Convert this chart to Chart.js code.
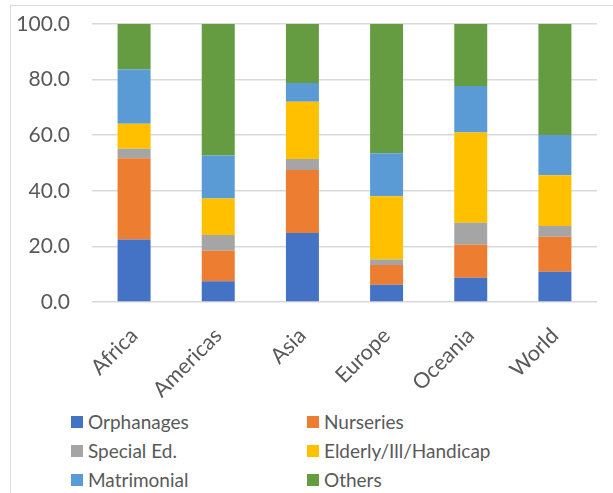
<!DOCTYPE html>
<html>
<head>
<meta charset="utf-8">
<script src="https://cdn.jsdelivr.net/npm/chart.js@4"></script>
<style>
  body { margin: 0; background: #fff; font-family: Lato, "Liberation Sans", sans-serif; }
  #frame { position: absolute; left: 10px; top: 5px; width: 640px; height: 520px; border-left: 1px solid #d9d9d9; border-top: 1px solid #d9d9d9; }
  #wrap { position: absolute; left: 0; top: 0; width: 613px; height: 400px; }
  #legend { position: absolute; left: 71px; top: 410px; width: 540px; color: #595959; font-size: 19px; }
  .item { position: absolute; display: flex; align-items: center; white-space: nowrap; }
  .box { width: 12px; height: 12px; margin-right: 5px; }
</style>
</head>
<body>
<div id="frame"></div>
<div id="wrap"><canvas id="chart"></canvas></div>
<div id="legend"></div>
<script>
// regiões e percentagens por tipo de instituição
const regions = ['Africa', 'Americas', 'Asia', 'Europe', 'Oceania', 'World'];
const orphanages = [22.5, 7.5, 24.8, 6.2, 8.7, 10.9];
const nurseries = [29.2, 10.9, 22.7, 7.1, 11.9, 12.6];
const specialEd = [3.4, 5.7, 3.9, 2.0, 7.9, 3.8];
const elderly = [9.0, 13.1, 20.6, 22.7, 32.5, 18.3];
const matrimonial = [19.5, 15.5, 6.8, 15.5, 16.7, 14.5];
const others = [16.4, 47.3, 21.2, 46.5, 22.3, 39.9];
const yTicks = [0, 20, 40, 60, 80, 100];

const series = [
    { label: 'Orphanages', data: orphanages, color: '#4472C4' },
    { label: 'Nurseries', data: nurseries, color: '#ED7D31' },
    { label: 'Special Ed.', data: specialEd, color: '#A5A5A5' },
    { label: 'Elderly/Ill/Handicap', data: elderly, color: '#FFC000' },
    { label: 'Matrimonial', data: matrimonial, color: '#5B9BD5' },
    { label: 'Others', data: others, color: '#659C41' }
];

const font = 'Lato, "Liberation Sans", sans-serif';

new Chart(document.getElementById('chart'), {
    type: 'bar',
    data: {
        labels: regions,
        datasets: series.map(s => ({
            label: s.label,
            data: s.data,
            backgroundColor: s.color,
            borderWidth: 0,
            barPercentage: 0.49,
            categoryPercentage: 0.8
        }))
    },
    options: {
        responsive: true,
        maintainAspectRatio: false,
        animation: false,
        layout: { padding: { top: 24, right: 16, left: 0, bottom: 0 } },
        plugins: { legend: { display: false }, tooltip: { enabled: false } },
        scales: {
            x: {
                stacked: true,
                grid: { display: false },
                border: { display: false },
                ticks: {
                    color: '#595959',
                    font: { family: font, size: 21.5 },
                    minRotation: 45,
                    maxRotation: 45,
                    padding: 13
                },
                afterFit: function (scale) { scale.height = 98; }
            },
            y: {
                stacked: true,
                min: 0,
                max: 100,
                border: { display: false },
                grid: { color: '#d9d9d9', lineWidth: 1.5, drawTicks: false },
                afterBuildTicks: function (scale) { scale.ticks = yTicks.map(v => ({ value: v })); },
                ticks: {
                    color: '#595959',
                    font: { family: font, size: 21 },
                    padding: 22,
                    callback: v => v.toFixed(1)
                },
                afterFit: function (scale) {
                    scale.width = 92;
                    scale.paddingTop = 0;
                    scale.paddingBottom = 0;
                }
            }
        }
    }
});

// legenda em duas colunas
const legend = document.getElementById('legend');
series.forEach(function (s, i) {
    const el = document.createElement('div');
    el.className = 'item';
    el.style.left = (i % 2 === 0 ? 0 : 236) + 'px';
    el.style.top = (Math.floor(i / 2) * 29) + 'px';
    el.innerHTML = '<span class="box" style="background:' + s.color + '"></span>' + s.label;
    legend.appendChild(el);
});
</script>
</body>
</html>
